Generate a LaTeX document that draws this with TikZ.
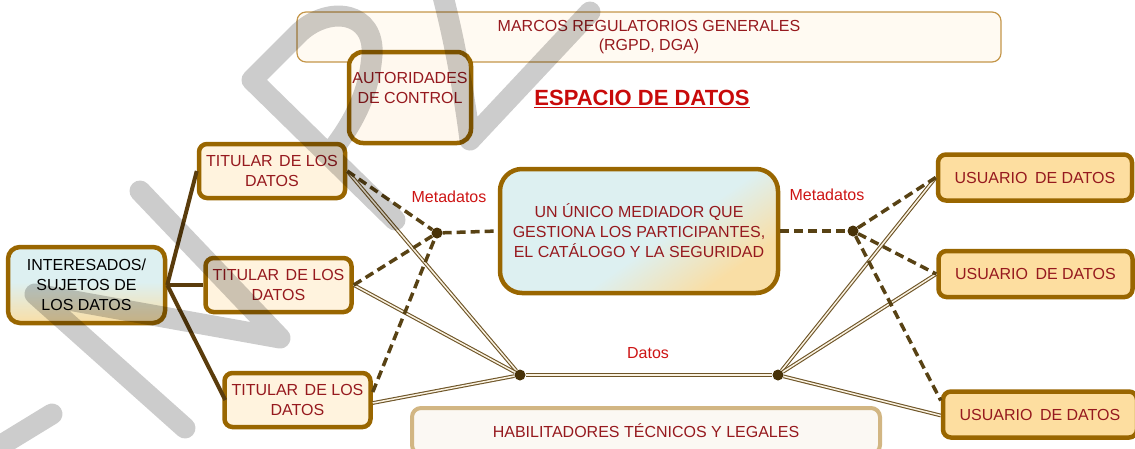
\documentclass[tikz,border=0pt]{standalone}
\usepackage{fontspec}
\setmainfont{Liberation Sans}
\usetikzlibrary{calc,shadings}
\definecolor{bord}{RGB}{153,102,0}
\definecolor{txtred}{RGB}{150,25,30}
\definecolor{lblred}{RGB}{205,20,20}
\definecolor{ttlred}{RGB}{200,10,10}
\definecolor{linkbrown}{RGB}{90,60,12}
\definecolor{dashbrown}{RGB}{88,66,20}
\definecolor{dblbrown}{RGB}{110,85,40}
\definecolor{dblfill}{RGB}{250,242,225}
\definecolor{titfill}{RGB}{255,243,222}
\definecolor{usrfill}{RGB}{253,222,160}
\definecolor{autfill}{RGB}{255,248,238}
\definecolor{marfill}{RGB}{255,250,242}
\definecolor{marbord}{RGB}{196,150,74}
\definecolor{habfill}{RGB}{251,248,243}
\definecolor{habbord}{RGB}{210,182,131}
\definecolor{cyanf}{RGB}{221,240,241}
\definecolor{orf}{RGB}{249,222,165}
\definecolor{dotc}{RGB}{72,50,8}
\pgfdeclareverticalshading{medsh}{100bp}{color(0bp)=(orf); color(27bp)=(orf); color(45bp)=(cyanf); color(100bp)=(cyanf)}
\pgfdeclareverticalshading{intsh}{100bp}{color(0bp)=(orf); color(25bp)=(orf); color(52bp)=(cyanf); color(100bp)=(cyanf)}
\tikzset{
  box/.style={draw=bord, line width=4.5pt, rounded corners=8pt, align=center,
    text=txtred, font=\fontsize{16}{20}\selectfont, inner sep=0pt},
  tit/.style={box, fill=titfill, minimum width=146pt, minimum height=54pt},
  usr/.style={box, fill=usrfill, minimum width=194pt, minimum height=46pt},
  lbl/.style={text=lblred, font=\fontsize{16}{20}\selectfont, inner sep=0pt},
  jdot/.style={circle, fill=dotc, inner sep=0pt, minimum size=11pt},
  link/.style={draw=linkbrown, line width=4pt},
  meta/.style={draw=dashbrown, line width=3.5pt, dash pattern=on 9pt off 5pt},
  dat/.style={draw=dblbrown, line width=1.1pt, double=dblfill, double distance=1.5pt},
  wm/.style={draw=black, opacity=0.2, line width=21pt, line cap=round, line join=round}
}
\begin{document}
\begin{tikzpicture}[x=1pt,y=-1pt]
\useasboundingbox (0,0) rectangle (1135,448);
\clip (0,0) rectangle (1135,448);
% frames
\node[draw=marbord, line width=1.2pt, fill=marfill, rounded corners=9pt, minimum width=704pt,
  minimum height=50pt, align=center, text=txtred, font=\fontsize{16}{19}\selectfont, inner sep=0pt]
  (marcos) at (649,37) {MARCOS REGULATORIOS GENERALES\\(RGPD, DGA)};
\node[draw=habbord, line width=4pt, fill=habfill, rounded corners=9pt, minimum width=468pt,
  minimum height=46pt, text=txtred, font=\fontsize{16}{19}\selectfont, inner sep=0pt]
  (hab) at (646,431) {HABILITADORES TÉCNICOS Y LEGALES};
\node[box, fill=autfill, rounded corners=14pt, minimum width=122pt, minimum height=91pt]
  (aut) at (410,97.5) {AUTORIDADES\\DE CONTROL\\[-1pt]};
\node[text=ttlred, font=\fontsize{22}{26}\selectfont\bfseries, inner sep=0pt]
  (ttl) at (642,99) {\underline{ESPACIO DE DATOS}};
% main nodes
\node[box, text=black, rounded corners=12pt, minimum width=157pt, minimum height=76pt,
  shading=intsh]
  (int) at (86.5,285) {INTERESADOS/\\SUJETOS DE\\LOS DATOS};
\node[tit] (t1) at (272,171) {TITULAR\hspace{2pt} DE LOS\\DATOS};
\node[tit] (t2) at (278.5,285) {TITULAR\hspace{2pt} DE LOS\\DATOS};
\node[tit] (t3) at (297.5,400) {TITULAR\hspace{2pt} DE LOS\\DATOS};
\node[box, rounded corners=22pt, minimum width=278pt, minimum height=124pt,
  shading=medsh, shading angle=35]
  (med) at (639,231) {UN ÚNICO MEDIADOR QUE\\GESTIONA LOS PARTICIPANTES,\\EL CATÁLOGO Y LA SEGURIDAD};
\node[usr] (u1) at (1035,177.5) {USUARIO\hspace{3pt} DE DATOS};
\node[usr] (u2) at (1035.5,274) {USUARIO\hspace{3pt} DE DATOS};
\node[usr] (u3) at (1040,414.5) {USUARIO\hspace{3pt} DE DATOS};
% junctions
\node[jdot] (j1) at (437,233) {};
\node[jdot] (j2) at (853,231) {};
\node[jdot] (d1) at (520,375) {};
\node[jdot] (d2) at (778,375) {};
% labels
\node[lbl] (m1) at (449,197) {Metadatos};
\node[lbl] (m2) at (827,195) {Metadatos};
\node[lbl] (dl) at (648,353) {Datos};
% links
\draw[link] (int.east) -- (t1.west);
\draw[link] (int.east) -- (t2.west);
\draw[link] (int.east) -- ([xshift=3pt]t3.west);
% data lines
\draw[dat] (t1.east) -- (d1);
\draw[dat] (t2.east) -- (d1);
\draw[dat] ([yshift=-3pt]t3.east) -- (d1);
\draw[dat] (d1) -- (d2);
\draw[dat] (d2) -- (u1.west);
\draw[dat] (d2) -- (u2.west);
\draw[dat] (d2) -- ([yshift=-1pt]u3.west);
% metadata lines
\draw[meta] (t1.east) -- (j1);
\draw[meta] (t2.east) -- (j1);
\draw[meta] ([yshift=8pt]t3.east) -- (j1);
\draw[meta] (j1) -- (med.west);
\draw[meta] (med.east) -- (j2);
\draw[meta] (j2) -- (u1.west);
\draw[meta] (j2) -- (u2.west);
\draw[meta] (j2) -- ([yshift=14pt]u3.west);
% watermark
\draw[wm] (-20,458) -- (52,414);
\draw[wm] (185,428) -- (35,294) -- (280,338) -- (140,191);
\draw[wm] (395,220) -- (252,80) -- (300,32) .. controls (330,5) and (375,12) .. (372,55)
  .. controls (369,95) and (352,125) .. (330,153);
\draw[wm] (440,-15) .. controls (455,40) and (465,100) .. (470,140) -- (590,12);
\end{tikzpicture}
\end{document}
